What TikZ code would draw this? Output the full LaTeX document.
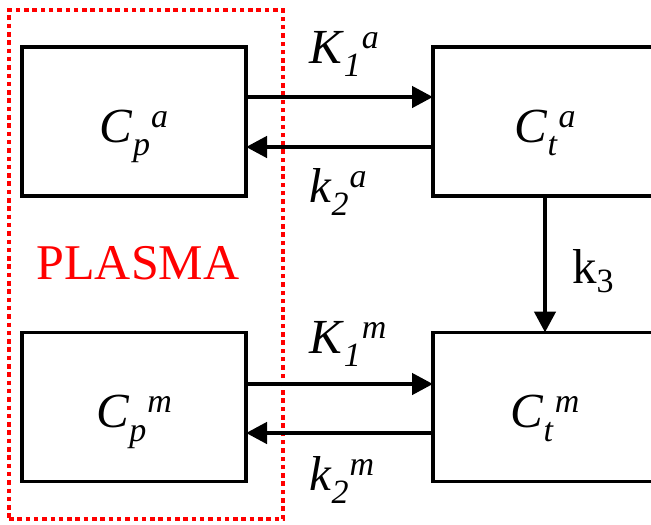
\documentclass[tikz,border=0pt]{standalone}
\usepackage{fontspec}
\setmainfont{Liberation Serif}
\usetikzlibrary{arrows.meta}
\newcommand\scr{\fontsize{34}{34}\selectfont}
\newcommand\lab[3]{\textit{#1}\raisebox{-0.28em}{\scr\textit{#2}}\kern1pt\raisebox{0.3em}{\scr\textit{#3}}}
\begin{document}
\begin{tikzpicture}[x=1pt,y=-1pt,
 box/.style={draw, line width=3.2pt, minimum width=224pt, minimum height=149pt, inner sep=0pt, outer sep=0pt},
 lbl/.style={inner sep=0pt, anchor=base, font=\fontsize{49}{49}\selectfont},
 arr/.style={line width=4.5pt, -{Triangle[length=21pt,width=21pt]}},
 plasmabox/.style={draw=red, line width=4.5pt, dash pattern=on 4.5pt off 3.8pt, minimum width=274pt, minimum height=509pt, inner sep=0pt}]
\useasboundingbox (0,0) rectangle (651,525);
\node[plasmabox] (pl) at (146,264.5) {};
\node[box] (cpa) at (134,121.5) {};
\node[box] (cta) at (545,121.5) {};
\node[box] (cpm) at (134,407) {};
\node[box] (ctm) at (545,407) {};
\node[lbl] (lcpa) at ([yshift=-20.5pt]cpa.center) {\lab{C}{p}{a}};
\node[lbl] (lcta) at ([yshift=-20.5pt]cta.center) {\lab{C}{t}{a}};
\node[lbl] (lcpm) at ([yshift=-20.5pt]cpm.center) {\lab{C}{p}{m}};
\node[lbl] (lctm) at ([yshift=-20.5pt]ctm.center) {\lab{C}{t}{m}};
\draw[arr] ([yshift=24.5pt]cpa.east) -- ([yshift=24.5pt]cta.west);
\draw[arr] ([yshift=-25.5pt]cta.west) -- ([yshift=-25.5pt]cpa.east);
\draw[arr] ([yshift=23pt]cpm.east) -- ([yshift=23pt]ctm.west);
\draw[arr] ([yshift=-26pt]ctm.west) -- ([yshift=-26pt]cpm.east);
\draw[arr] (cta.south) -- (ctm.north);
\node[lbl, anchor=base west] (k1a) at (309,63) {\lab{K}{1}{a}};
\node[lbl, anchor=base west] (k2a) at (309,202) {\lab{k}{2}{a}};
\node[lbl, anchor=base west] (k1m) at (309,353) {\lab{K}{1}{m}};
\node[lbl, anchor=base west] (k2m) at (309,490) {\lab{k}{2}{m}};
\node[lbl, anchor=base west] (k3) at (572,283) {k\raisebox{-0.2em}{\scr 3}};
\node[lbl, anchor=base, text=red, font=\fontsize{50}{50}\selectfont] (plasma) at (138,279) {PLASMA};
\end{tikzpicture}
\end{document}
